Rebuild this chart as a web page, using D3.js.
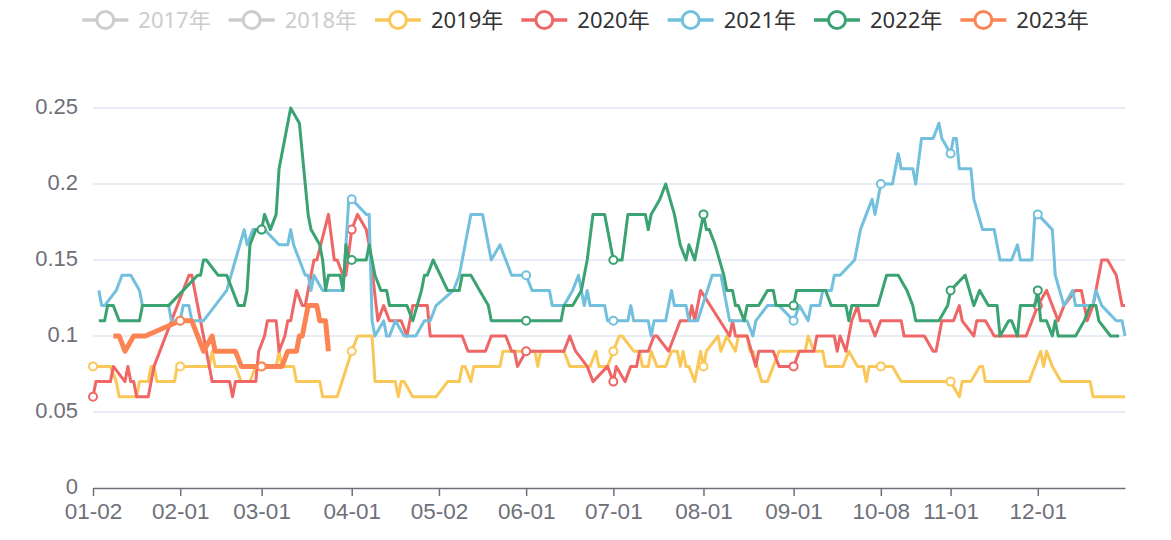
<!DOCTYPE html>
<html>
<head>
<meta charset="utf-8">
<script src="https://cdn.jsdelivr.net/npm/d3@7/dist/d3.min.js"></script>
<style>
  html, body { margin: 0; padding: 0; background: #fff; }
  svg { display: block; font-family: "Noto Sans", "Noto Sans CJK SC", sans-serif; }
</style>
</head>
<body>
<svg id="chart" width="1171" height="540"></svg>
<script>
// ---- x axis: day index on the union calendar (01-02 ... 12-31) ----
const tickLabels = ["01-02","02-01","03-01","04-01","05-02","06-01","07-01","08-01","09-01","10-08","11-01","12-01"];
const tickIndex  = [0, 30, 58, 89, 119, 149, 179, 210, 241, 271, 295, 325];
const lastIndex  = 355;

// ---- y axis ----
const yTicks = [0, 0.05, 0.1, 0.15, 0.2, 0.25];
const yTickLabels = ["0", "0.05", "0.1", "0.15", "0.2", "0.25"];

// ---- legend ----
const legendNames = ["2017年","2018年","2019年","2020年","2021年","2022年","2023年"];
const legendColors = ["#5470c6","#91cc75","#fac858","#ee6666","#73c0de","#3ba272","#fc8452"];
const legendActive = [false, false, true, true, true, true, true];

// ---- series: [dayIndex, value] ----
const s2019 = [[0,.08],[6,.08],[8,.07],[9,.06],[15,.06],[16,.07],[19,.07],[20,.08],[21,.08],[22,.07],[28,.07],[29,.08],[40,.08],[41,.09],[42,.08],[49,.08],[51,.07],[54,.07],[56,.08],[63,.08],[64,.09],[65,.08],[69,.08],[70,.07],[78,.07],[79,.06],[84,.06],[89,.09],[91,.1],[96,.1],[97,.07],[104,.07],[105,.06],[106,.07],[107,.07],[110,.06],[118,.06],[122,.07],[126,.07],[127,.08],[128,.08],[130,.07],[131,.08],[140,.08],[141,.09],[152,.09],[153,.08],[154,.09],[162,.09],[164,.08],[171,.08],[173,.09],[174,.08],[177,.08],[179,.09],[181,.1],[182,.1],[186,.09],[188,.09],[189,.08],[191,.08],[192,.09],[194,.08],[197,.08],[199,.09],[201,.09],[202,.08],[203,.09],[204,.08],[205,.08],[207,.07],[209,.09],[210,.08],[211,.09],[215,.1],[216,.09],[218,.1],[221,.09],[222,.1],[225,.1],[226,.09],[227,.09],[230,.07],[232,.07],[234,.08],[236,.09],[245,.09],[246,.1],[248,.09],[251,.09],[252,.08],[258,.08],[260,.09],[263,.08],[265,.08],[266,.07],[267,.08],[275,.08],[278,.07],[295,.07],[298,.06],[299,.07],[302,.07],[305,.08],[306,.08],[307,.07],[322,.07],[326,.09],[327,.08],[328,.09],[330,.08],[333,.07],[343,.07],[344,.06],[355,.06]];
const s2020 = [[0,.06],[1,.07],[6,.07],[7,.08],[11,.07],[12,.08],[13,.07],[14,.07],[15,.06],[19,.06],[21,.08],[33,.14],[34,.14],[36,.12],[41,.07],[47,.07],[48,.06],[49,.07],[56,.07],[57,.09],[59,.1],[60,.11],[63,.11],[64,.09],[66,.1],[67,.11],[68,.11],[70,.13],[72,.12],[73,.12],[76,.15],[77,.15],[81,.18],[83,.15],[84,.15],[86,.14],[87,.14],[89,.17],[91,.18],[94,.17],[95,.16],[98,.11],[100,.12],[102,.11],[106,.11],[108,.1],[110,.12],[115,.12],[116,.1],[127,.1],[129,.09],[135,.09],[137,.1],[142,.1],[144,.09],[145,.09],[146,.08],[149,.09],[162,.09],[164,.1],[166,.09],[170,.08],[172,.07],[177,.08],[179,.07],[180,.08],[183,.07],[185,.08],[187,.08],[188,.09],[191,.09],[193,.1],[194,.1],[198,.09],[200,.1],[202,.11],[205,.11],[206,.12],[207,.11],[208,.12],[209,.13],[219,.1],[220,.11],[221,.1],[225,.1],[228,.08],[229,.09],[234,.09],[236,.08],[241,.08],[243,.09],[248,.09],[249,.1],[255,.1],[256,.09],[257,.1],[259,.09],[261,.11],[263,.12],[264,.11],[267,.11],[269,.1],[271,.11],[278,.11],[279,.1],[286,.1],[289,.09],[290,.09],[292,.11],[296,.11],[298,.12],[299,.11],[303,.1],[304,.11],[307,.11],[310,.1],[321,.1],[325,.12],[328,.13],[332,.11],[334,.12],[338,.13],[340,.13],[342,.11],[344,.12],[347,.15],[349,.15],[352,.14],[354,.12],[355,.12]];
const s2021 = [[2,.13],[3,.12],[4,.12],[8,.13],[10,.14],[13,.14],[16,.13],[17,.12],[26,.12],[27,.11],[30,.11],[31,.12],[33,.12],[34,.11],[38,.11],[46,.13],[49,.15],[52,.17],[53,.16],[55,.17],[59,.17],[64,.16],[67,.16],[68,.17],[69,.16],[71,.15],[73,.14],[74,.14],[75,.13],[76,.14],[79,.13],[86,.13],[88,.19],[89,.19],[94,.18],[95,.18],[96,.11],[97,.1],[100,.11],[101,.1],[102,.1],[104,.11],[107,.1],[111,.1],[114,.11],[116,.11],[118,.12],[124,.13],[126,.14],[128,.16],[130,.18],[134,.18],[135,.17],[137,.15],[140,.16],[144,.14],[149,.14],[151,.13],[157,.13],[158,.12],[162,.12],[165,.13],[167,.14],[169,.12],[170,.13],[171,.12],[176,.12],[177,.11],[184,.11],[185,.12],[186,.11],[191,.11],[192,.1],[193,.11],[197,.11],[199,.13],[200,.12],[204,.12],[205,.11],[208,.11],[213,.14],[216,.14],[219,.11],[225,.11],[227,.1],[228,.11],[232,.12],[236,.12],[241,.11],[243,.12],[246,.11],[247,.12],[250,.12],[251,.13],[254,.13],[255,.14],[257,.14],[262,.15],[264,.17],[266,.18],[268,.19],[269,.18],[271,.2],[275,.2],[277,.22],[278,.21],[282,.21],[283,.2],[285,.23],[289,.23],[291,.24],[292,.23],[295,.22],[296,.23],[297,.23],[298,.21],[302,.21],[303,.19],[306,.17],[310,.17],[312,.15],[316,.15],[318,.16],[319,.15],[323,.15],[324,.18],[325,.18],[330,.17],[331,.14],[334,.12],[337,.13],[338,.12],[344,.12],[345,.13],[347,.12],[352,.11],[354,.11],[355,.1]];
const s2022 = [[2,.11],[4,.11],[5,.12],[7,.12],[9,.11],[16,.11],[17,.12],[26,.12],[36,.14],[37,.14],[38,.15],[39,.15],[43,.14],[46,.14],[48,.13],[50,.12],[52,.12],[53,.13],[54,.16],[56,.17],[58,.17],[59,.18],[61,.17],[63,.18],[64,.21],[65,.22],[68,.25],[71,.24],[72,.22],[73,.2],[74,.18],[75,.17],[78,.16],[79,.15],[80,.13],[81,.14],[85,.14],[86,.13],[87,.16],[88,.15],[94,.15],[95,.16],[97,.14],[99,.13],[101,.13],[102,.12],[108,.12],[110,.11],[113,.13],[114,.14],[115,.14],[117,.15],[122,.13],[126,.13],[127,.14],[130,.14],[133,.13],[136,.12],[137,.11],[161,.11],[162,.12],[165,.12],[168,.13],[170,.15],[172,.18],[176,.18],[179,.15],[182,.15],[184,.18],[190,.18],[191,.17],[192,.18],[195,.19],[197,.2],[200,.18],[202,.16],[204,.15],[205,.16],[207,.15],[209,.17],[210,.18],[211,.17],[212,.17],[214,.16],[217,.14],[218,.13],[220,.13],[221,.12],[222,.12],[224,.11],[225,.12],[229,.12],[232,.13],[234,.13],[235,.12],[241,.12],[242,.13],[252,.13],[254,.12],[259,.12],[260,.11],[261,.12],[270,.12],[273,.14],[277,.14],[280,.13],[282,.12],[283,.11],[291,.11],[294,.12],[295,.13],[300,.14],[303,.12],[305,.13],[308,.12],[311,.12],[312,.1],[315,.11],[316,.11],[318,.1],[319,.12],[324,.12],[325,.13],[326,.11],[328,.11],[330,.1],[331,.11],[332,.1],[338,.1],[341,.11],[343,.12],[345,.12],[346,.11],[350,.1],[353,.1]];
const s2023 = [[7,.1],[9,.1],[11,.09],[14,.1],[18,.1],[30,.11],[34,.11],[36,.1],[38,.09],[41,.1],[42,.09],[49,.09],[51,.08],[65,.08],[67,.09],[70,.09],[71,.1],[72,.1],[74,.12],[77,.12],[78,.11],[80,.11],[81,.09]];

// dates (tick labels) at which each year shows a symbol
const marks2019 = ["01-02","02-01","03-01","04-01","07-01","08-01","10-08","11-01"];
const marks2020 = ["01-02","04-01","06-01","07-01","09-01","12-01"];
const marks2021 = ["02-01","03-01","04-01","06-01","07-01","09-01","10-08","11-01","12-01"];
const marks2022 = ["03-01","04-01","06-01","07-01","08-01","09-01","11-01","12-01"];
const marks2023 = ["02-01","03-01"];

const series = [
  {name: "2019年", color: "#fac858", data: s2019, marks: marks2019, width: 3},
  {name: "2020年", color: "#ee6666", data: s2020, marks: marks2020, width: 3},
  {name: "2021年", color: "#73c0de", data: s2021, marks: marks2021, width: 3},
  {name: "2022年", color: "#3ba272", data: s2022, marks: marks2022, width: 3},
  {name: "2023年", color: "#fc8452", data: s2023, marks: marks2023, width: 5}
];

const axisFont = "Liberation Sans, Arial, sans-serif";
const svg = d3.select("#chart");
const x = d3.scaleLinear().domain([0, lastIndex]).range([93, 1125]);
const y = d3.scaleLinear().domain([0, 0.25]).range([488, 108]);

// grid lines
svg.append("g").selectAll("line").data(yTicks.filter(v => v > 0)).join("line")
  .attr("x1", x(0)).attr("x2", x(lastIndex))
  .attr("y1", d => y(d)).attr("y2", d => y(d))
  .attr("stroke", "#E0E6F1").attr("stroke-width", 1.5);

// y axis labels
const yAxis = d3.axisLeft(y).tickValues(yTicks)
  .tickFormat((d, i) => yTickLabels[i]).tickSize(0).tickPadding(15);
const gy = svg.append("g").attr("transform", `translate(${x(0)},0)`).call(yAxis);
gy.select(".domain").remove();
gy.selectAll("text").attr("fill", "#6E7079").attr("font-size", 22)
  .attr("font-family", axisFont).attr("dy", "0.27em");

// x axis
const xAxis = d3.axisBottom(x).tickValues(tickIndex)
  .tickFormat((d, i) => tickLabels[i]).tickSize(8).tickSizeOuter(0).tickPadding(7);
const gx = svg.append("g").attr("transform", `translate(0,${y(0)})`).call(xAxis);
gx.select(".domain").attr("stroke", "#6E7079").attr("stroke-width", 1.5);
gx.selectAll(".tick line").attr("stroke", "#6E7079").attr("stroke-width", 1.5);
gx.selectAll("text").attr("fill", "#6E7079").attr("font-size", 22.5)
  .attr("font-family", axisFont).attr("y", 31).attr("dy", null);

// value at a day index from a series' points
function valueAt(data, idx) {
  for (let k = 0; k < data.length; k++) {
    if (data[k][0] === idx) return data[k][1];
    if (k > 0 && data[k-1][0] < idx && data[k][0] > idx) {
      const t = (idx - data[k-1][0]) / (data[k][0] - data[k-1][0]);
      return data[k-1][1] + t * (data[k][1] - data[k-1][1]);
    }
  }
  return null;
}

const line = d3.line().x(d => x(d[0])).y(d => y(d[1]));
const plot = svg.append("g");
series.forEach(s => {
  const g = plot.append("g");
  g.append("path").datum(s.data).attr("d", line)
    .attr("fill", "none").attr("stroke", s.color).attr("stroke-width", s.width)
    .attr("stroke-linejoin", "round").attr("stroke-linecap", "butt");
  const pts = s.marks.map(m => {
    const idx = tickIndex[tickLabels.indexOf(m)];
    return [idx, valueAt(s.data, idx)];
  }).filter(p => p[1] !== null);
  g.selectAll("circle").data(pts).join("circle")
    .attr("cx", d => x(d[0])).attr("cy", d => y(d[1])).attr("r", 4)
    .attr("fill", "#fff").attr("stroke", s.color).attr("stroke-width", 2);
});

// legend
const lg = svg.append("g");
const iconW = 46, textGap = 10, itemGap = 18, ly = 20;
const items = legendNames.map((n, i) => {
  const g = lg.append("g");
  const col = legendActive[i] ? legendColors[i] : "#ccc";
  g.append("line").attr("x1", 0).attr("x2", iconW).attr("y1", ly).attr("y2", ly)
    .attr("stroke", col).attr("stroke-width", 3.3);
  g.append("circle").attr("cx", iconW / 2).attr("cy", ly).attr("r", 8.5)
    .attr("fill", "#fff").attr("stroke", col).attr("stroke-width", 3);
  const t = g.append("text").attr("x", iconW + textGap).attr("y", ly + 8)
    .attr("font-size", 22).attr("fill", legendActive[i] ? "#333" : "#ccc").text(n);
  const w = iconW + textGap + t.node().getComputedTextLength();
  return {g, w};
});
const total = d3.sum(items, d => d.w) + itemGap * (items.length - 1);
let cx = 1171 / 2 - total / 2;
items.forEach(it => { it.g.attr("transform", `translate(${cx},0)`); cx += it.w + itemGap; });
</script>
</body>
</html>
